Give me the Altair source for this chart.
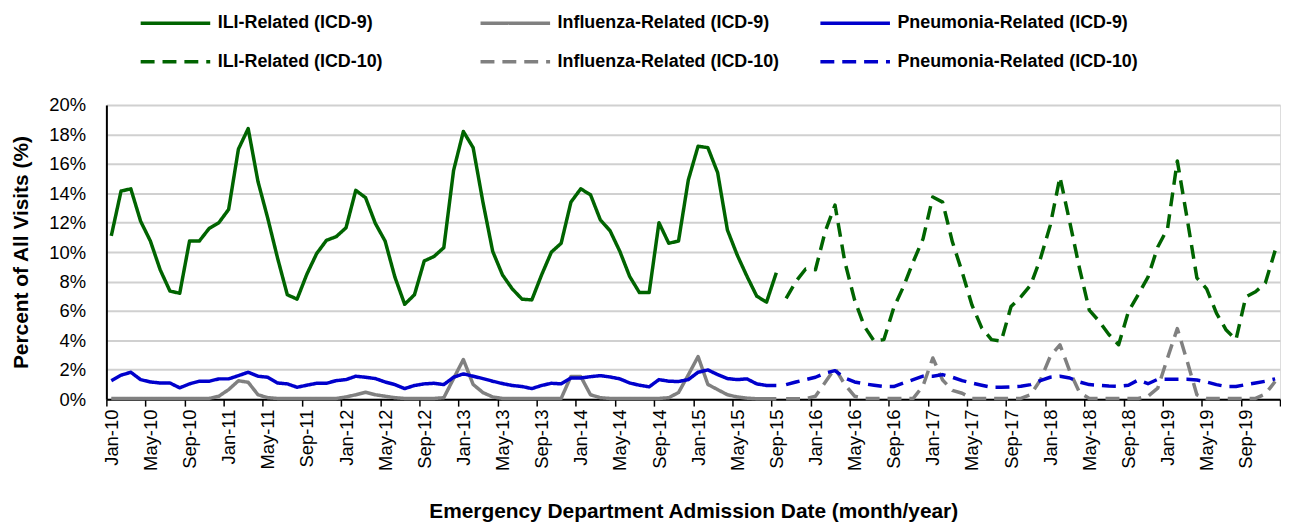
import altair as alt
import pandas as pd

# Monthly series, Jan-2010 .. Dec-2019 (120 months), percent of all ED visits
ili = [11.1, 14.15, 14.3, 12.1, 10.75, 8.8, 7.35, 7.2, 10.75, 10.75, 11.6, 12.0,
       12.9, 17.0, 18.4, 14.8, 12.3, 9.6, 7.1, 6.8, 8.5, 9.9, 10.8, 11.05,
       11.65, 14.2, 13.7, 11.95, 10.75, 8.3, 6.45, 7.1, 9.4, 9.7, 10.3, 15.55,
       18.2, 17.1, 13.4, 10.05, 8.45, 7.5, 6.8, 6.75, 8.45, 10.0, 10.6, 13.4,
       14.3, 13.9, 12.2, 11.45, 10.05, 8.35, 7.25, 7.25, 12.0, 10.6, 10.75, 14.9,
       17.2, 17.1, 15.4, 11.5, 9.8, 8.35, 7.0, 6.6, 8.6, 6.85, 8.0, 8.85,
       8.8, 11.4, 13.2, 9.35, 6.75, 4.95, 3.95, 4.05, 6.2, 7.65, 9.35, 10.9,
       13.75, 13.4, 10.7, 8.65, 6.4, 4.85, 4.05, 3.95, 6.3, 6.95, 7.75, 9.55,
       11.8, 15.1, 12.05, 8.9, 6.05, 5.3, 4.4, 3.7, 5.95, 7.1, 8.3, 10.35,
       11.6, 16.2, 12.3, 8.25, 7.5, 5.85, 4.7, 4.05, 6.95, 7.3, 7.9, 10.1]

flu = [0.05, 0.05, 0.05, 0.05, 0.05, 0.05, 0.05, 0.05, 0.05, 0.05, 0.05, 0.2,
       0.65, 1.25, 1.15, 0.3, 0.1, 0.05, 0.05, 0.05, 0.05, 0.05, 0.05, 0.05,
       0.15, 0.3, 0.47, 0.3, 0.2, 0.1, 0.05, 0.05, 0.05, 0.05, 0.1, 1.4,
       2.7, 1.0, 0.45, 0.15, 0.05, 0.05, 0.05, 0.05, 0.05, 0.05, 0.05, 1.55,
       1.55, 0.3, 0.1, 0.05, 0.05, 0.05, 0.05, 0.05, 0.05, 0.1, 0.45, 1.65,
       2.9, 1.0, 0.65, 0.3, 0.15, 0.07, 0.03, 0.03, 0.03, 0.03, 0.03, 0.03,
       0.2, 1.15, 2.1, 1.0, 0.2, 0.05, 0.05, 0.05, 0.05, 0.05, 0.05, 0.9,
       2.8, 1.3, 0.6, 0.4, 0.05, 0.05, 0.05, 0.05, 0.05, 0.05, 0.3, 1.3,
       2.9, 3.7, 1.9, 0.45, 0.05, 0.05, 0.05, 0.05, 0.05, 0.05, 0.2, 0.75,
       2.8, 4.8, 2.6, 0.3, 0.05, 0.05, 0.05, 0.05, 0.05, 0.05, 0.35, 1.2]

pneu = [1.26, 1.63, 1.83, 1.33, 1.17, 1.1, 1.1, 0.77, 1.04, 1.22, 1.22, 1.38,
        1.38, 1.6, 1.83, 1.56, 1.49, 1.1, 1.04, 0.81, 0.95, 1.08, 1.08, 1.26,
        1.33, 1.56, 1.49, 1.4, 1.17, 0.99, 0.72, 0.93, 1.04, 1.08, 0.99, 1.49,
        1.72, 1.56, 1.4, 1.22, 1.06, 0.93, 0.86, 0.72, 0.93, 1.08, 1.04, 1.44,
        1.44, 1.53, 1.6, 1.51, 1.38, 1.1, 0.95, 0.84, 1.33, 1.22, 1.2, 1.33,
        1.83, 1.99, 1.67, 1.4, 1.33, 1.38, 1.04, 0.93, 0.93, 0.99, 1.17, 1.33,
        1.49, 1.78, 1.94, 1.44, 1.17, 1.04, 0.95, 0.86, 0.86, 1.1, 1.33, 1.56,
        1.56, 1.67, 1.49, 1.26, 1.1, 0.95, 0.81, 0.81, 0.84, 0.88, 0.99, 1.26,
        1.49, 1.56, 1.44, 1.17, 0.99, 0.95, 0.9, 0.88, 0.95, 1.3, 1.05, 1.35,
        1.35, 1.35, 1.35, 1.3, 1.17, 0.99, 0.86, 0.86, 0.99, 1.1, 1.22, 1.38]

# first ICD-10 month index (Oct-2015)
icd10_start = 69

series_icd9 = ["ILI-Related (ICD-9)", "Influenza-Related (ICD-9)", "Pneumonia-Related (ICD-9)"]
series_icd10 = ["ILI-Related (ICD-10)", "Influenza-Related (ICD-10)", "Pneumonia-Related (ICD-10)"]
series_colors = ["#006400", "#808080", "#0000CC"]

tick_labels = ["Jan-10", "May-10", "Sep-10", "Jan-11", "May-11", "Sep-11",
               "Jan-12", "May-12", "Sep-12", "Jan-13", "May-13", "Sep-13",
               "Jan-14", "May-14", "Sep-14", "Jan-15", "May-15", "Sep-15",
               "Jan-16", "May-16", "Sep-16", "Jan-17", "May-17", "Sep-17",
               "Jan-18", "May-18", "Sep-18", "Jan-19", "May-19", "Sep-19", ""]

rows = []
for k, vals in enumerate([ili, flu, pneu]):
    for i, v in enumerate(vals):
        name = series_icd9[k] if i < icd10_start else series_icd10[k]
        rows.append({"month": i + 0.5, "value": v, "series": name})
df = pd.DataFrame(rows)

order = series_icd9 + series_icd10
colors = series_colors + series_colors
dashes = [[1, 0], [1, 0], [1, 0], [14, 8], [14, 8], [14, 8]]

label_expr = "[" + ",".join("'" + t + "'" for t in tick_labels) + "][round(datum.value / 4)]"

FONT = "Liberation Sans"

# wide horizontal stroke symbol (twice the nominal symbol size)
legend = alt.Legend(
    title=None, orient="none", legendX=50, legendY=-102, direction="horizontal",
    columns=3, gridAlign="all", columnPadding=14, rowPadding=10, padding=0,
    symbolType="M-2,0H2", symbolSize=1225, symbolStrokeWidth=3.5,
    labelFont=FONT, labelFontSize=18, labelFontWeight="bold", labelColor="black",
    labelOffset=23, labelLimit=400,
)

chart = alt.Chart(df).mark_line(strokeWidth=3.5, strokeJoin="round").encode(
    x=alt.X("month:Q",
            scale=alt.Scale(domain=[0, 120], nice=False, zero=False),
            axis=alt.Axis(values=list(range(0, 121, 4)), labelExpr=label_expr,
                          labelAngle=270, labelOffset=5, labelPadding=3,
                          labelFlush=False, labelOverlap=False, labelBound=False,
                          labelFont=FONT, labelFontSize=18.5, labelColor="black",
                          tickSize=7, tickColor="black", tickWidth=1.5,
                          domainColor="black", domainWidth=2, grid=False,
                          title="Emergency Department Admission Date (month/year)",
                          titleFont=FONT, titleFontSize=21, titleFontWeight="bold",
                          titleColor="black", titlePadding=30)),
    y=alt.Y("value:Q",
            scale=alt.Scale(domain=[0, 20], nice=False),
            axis=alt.Axis(values=list(range(0, 21, 2)), labelExpr="datum.value + '%'",
                          ticks=False, labelPadding=21,
                          labelFont=FONT, labelFontSize=18.5, labelColor="black",
                          domainColor="black", domainWidth=2,
                          grid=True, gridColor="#d0d0d0", gridWidth=2,
                          title="Percent of All Visits (%)",
                          titleFont=FONT, titleFontSize=21, titleFontWeight="bold",
                          titleColor="black", titlePadding=17)),
    color=alt.Color("series:N", scale=alt.Scale(domain=order, range=colors), legend=legend),
    strokeDash=alt.StrokeDash("series:N", scale=alt.Scale(domain=order, range=dashes), legend=legend),
).properties(
    width=1181, height=296,
    padding={"left": 99, "top": 96, "right": 1, "bottom": 126},
    autosize=alt.AutoSizeParams(type="none"),
).configure_view(stroke=None).configure(background="white")

chart.save("out.html", embed_options={"renderer": "svg", "actions": False})
